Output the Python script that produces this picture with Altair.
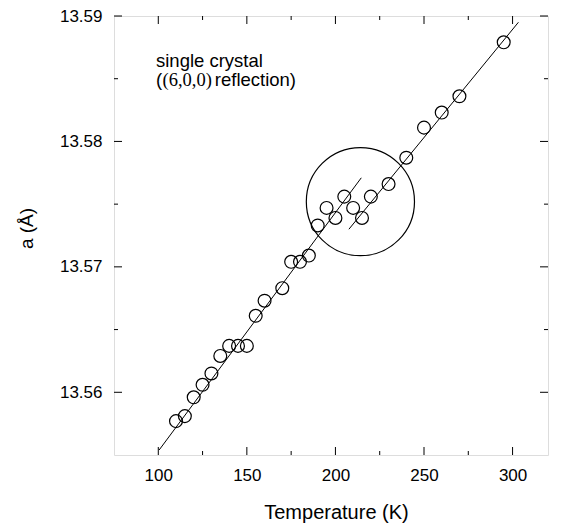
import altair as alt
import pandas as pd

# measured points: temperature (K) and lattice parameter a (Å)
temps = [110, 115, 120, 125, 130, 135, 140, 145, 150, 155, 160, 170, 175, 180,
         185, 190, 195, 200, 205, 210, 215, 220, 230, 240, 250, 260, 270, 295]
lattice = [13.5577, 13.5581, 13.5596, 13.5606, 13.5615, 13.5629, 13.5637, 13.5637,
           13.5637, 13.5661, 13.5673, 13.5683, 13.5704, 13.5704, 13.5709, 13.5733,
           13.5747, 13.5739, 13.5756, 13.5747, 13.5739, 13.5756, 13.5766, 13.5787,
           13.5811, 13.5823, 13.5836, 13.5879]

# two fitted line segments
fit1_T = [100.5, 214.6]
fit1_a = [13.5554, 13.5771]
fit2_T = [207.6, 303.3]
fit2_a = [13.5730, 13.5895]

# highlight circle centre
circle_T = [214.1]
circle_a = [13.5752]

# ticks
x_major = [100, 150, 200, 250, 300]
x_minor = [125, 175, 225, 275]
y_major = [13.56, 13.57, 13.58, 13.59]
y_minor = [13.565, 13.575, 13.585]

# annotation
ann_T = [98.7, 98.7, 102.4, 131.9]
ann_a = [13.58593, 13.58442, 13.58442, 13.58442]
ann_text = ["single crystal", "(", "(6,0,0)", "reflection)"]
ann_font = ["Liberation Sans", "Liberation Sans", "Liberation Serif", "Liberation Sans"]

W, H = 434, 439
FONT = "Liberation Sans"

xs = alt.Scale(domain=[75, 320], nice=False, zero=False)
ys = alt.Scale(domain=[13.555, 13.59], nice=False, zero=False)

x_axis = alt.Axis(values=x_major, ticks=False, tickSize=0, domain=False, grid=False,
                  labelFontSize=17, labelFont=FONT, labelColor="black", labelPadding=12,
                  labelFlush=False,
                  title="Temperature (K)", titleFontSize=20, titleFont=FONT,
                  titleFontWeight="normal", titleColor="black",
                  titleX=222, titleY=63, titleBaseline="alphabetic")
y_axis = alt.Axis(values=y_major, format=".2f", ticks=False, tickSize=0, domain=False,
                  grid=False, labelFontSize=17, labelFont=FONT, labelColor="black",
                  labelPadding=12, labelFlush=False,
                  title="a (Å)", titleFontSize=19, titleFont=FONT,
                  titleFontWeight="normal", titleColor="black",
                  titleX=-82, titleY=212, titleBaseline="alphabetic")

X = alt.X("T:Q", scale=xs, axis=x_axis)
Y = alt.Y("a:Q", scale=ys, axis=y_axis)

pts = pd.DataFrame({"T": temps, "a": lattice})
fit1 = pd.DataFrame({"T": fit1_T, "a": fit1_a})
fit2 = pd.DataFrame({"T": fit2_T, "a": fit2_a})
circ = pd.DataFrame({"T": circle_T, "a": circle_a})
ann = pd.DataFrame({"T": ann_T, "a": ann_a, "text": ann_text, "font": ann_font})

points = alt.Chart(pts).mark_point(shape="circle", size=165, filled=False,
                                   color="black", strokeWidth=1.2, opacity=1).encode(x=X, y=Y)
line1 = alt.Chart(fit1).mark_line(color="black", strokeWidth=1).encode(x=X, y=Y)
line2 = alt.Chart(fit2).mark_line(color="black", strokeWidth=1).encode(x=X, y=Y)
big = alt.Chart(circ).mark_point(shape="circle", size=11700, filled=False,
                                 color="black", strokeWidth=1.2, opacity=1).encode(x=X, y=Y)

sans_ann = ann[ann["font"] == "Liberation Sans"]
serif_ann = ann[ann["font"] == "Liberation Serif"]
txt1 = alt.Chart(sans_ann).mark_text(align="left", baseline="alphabetic", fontSize=18.5,
                                     font=FONT, color="black").encode(x=X, y=Y, text="text:N")
txt2 = alt.Chart(serif_ann).mark_text(align="left", baseline="alphabetic", fontSize=18.5,
                                      font="Liberation Serif", color="black").encode(x=X, y=Y, text="text:N")

def tick_layers(vals, length):
    d = pd.DataFrame({"T": vals})
    b = alt.Chart(d).mark_rule(color="black", strokeWidth=1).encode(
        x=X, y=alt.value(H), y2=alt.value(H - length))
    t = alt.Chart(d).mark_rule(color="black", strokeWidth=1).encode(
        x=X, y=alt.value(0), y2=alt.value(length))
    return [b, t]

def ytick_layers(vals, length):
    d = pd.DataFrame({"a": vals})
    l = alt.Chart(d).mark_rule(color="black", strokeWidth=1).encode(
        y=Y, x=alt.value(0), x2=alt.value(length))
    r = alt.Chart(d).mark_rule(color="black", strokeWidth=1).encode(
        y=Y, x=alt.value(W), x2=alt.value(W - length))
    return [l, r]

ticks = (tick_layers(x_major, 8) + tick_layers(x_minor, 4)
         + ytick_layers(y_major, 8) + ytick_layers(y_minor, 4))

chart = alt.layer(points, line1, line2, big, txt1, txt2, *ticks).properties(
    width=W, height=H,
    padding={"left": 114, "top": 16, "right": 13, "bottom": 71},
    autosize=alt.AutoSizeParams(type="none"),
).configure_view(stroke="black", strokeWidth=1.5).configure(background="white")

chart.save("out.html", embed_options={"renderer": "svg", "actions": False})
